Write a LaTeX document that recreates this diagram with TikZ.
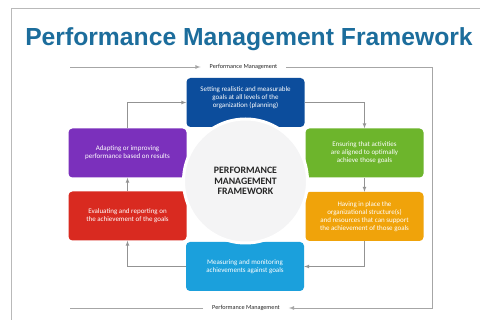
\documentclass[tikz,border=0pt]{standalone}
\usepackage{fontspec}
\setmainfont{Carlito}
\newfontfamily\titlefont{Liberation Sans}
\definecolor{titleblue}{HTML}{1C6D9C}
\definecolor{planblue}{HTML}{0C4D9C}
\definecolor{aligngreen}{HTML}{6DB52C}
\definecolor{structorange}{HTML}{F0A30A}
\definecolor{measureblue}{HTML}{1BA0DC}
\definecolor{evalred}{HTML}{D92A20}
\definecolor{adaptpurple}{HTML}{7B30BC}
\definecolor{hubgray}{HTML}{F4F4F5}
\begin{document}
\begin{tikzpicture}[x=1pt, y=-1pt, >=latex,
	stagebox/.style={rounded corners=4pt, text=white, minimum width=118pt, minimum height=49pt, align=center, inner sep=0pt, font=\fontsize{7}{7.9}\selectfont},
	flow/.style={draw=gray!85, line width=0.7pt},
	pmline/.style={draw=gray!70, line width=0.8pt},
	pmlabel/.style={inner xsep=9pt, text=black!85, font=\fontsize{6.2}{7}\selectfont}]
	\useasboundingbox (0,0) rectangle (480,320);
	\fill[white] (0,0) rectangle (480,320);
	\draw[gray!55, line width=1pt] (11,320) -- (11,9) -- (480,9);
	
	\node[anchor=base, text=titleblue, font=\titlefont\bfseries\fontsize{24.7}{26}\selectfont] (title) at (249,46) {Performance Management Framework};
	
	\coordinate (pmstart) at (70,67);
	\coordinate (pmcorner) at (432,308);
	\coordinate (pmend) at (70,308);
	\node[pmlabel] (pmtop) at (243.5,67) {Performance Management};
	\node[pmlabel] (pmbot) at (246,308) {Performance Management};
	\draw[pmline, ->] (pmstart) -- (pmtop.west);
	\draw[pmline, ->] (pmtop.east) -| (pmcorner) -- (pmbot.east);
	\draw[pmline] (pmbot.west) -- (pmend);
	
	\node[stagebox, fill=planblue] (plan) at (245.5,102.5) {Setting realistic and measurable\\goals at all levels of the\\organization (planning)\\[3pt]};
	\node[stagebox, fill=aligngreen] (align) at (364.5,153) {Ensuring that activities\\are aligned to optimally\\achieve those goals};
	\node[stagebox, fill=structorange] (struct) at (364.5,216.5) {Having in place the\\organizational structure(s)\\and resources that can support\\the achievement of those goals};
	\node[stagebox, fill=measureblue] (measure) at (245,266.5) {Measuring and monitoring\\achievements against goals};
	\node[stagebox, fill=evalred] (evaluate) at (127.5,216) {Evaluating and reporting on\\the achievement of the goals};
	\node[stagebox, fill=adaptpurple] (adapt) at (127.5,153) {Adapting or improving\\performance based on results};
	
	\node[circle, fill=hubgray, draw=white, line width=3pt, minimum size=124pt, inner sep=0pt, align=center, text=black!85, font=\bfseries\fontsize{9.8}{10.4}\selectfont] (hub) at (245.5,181) {PERFORMANCE\\MANAGEMENT\\FRAMEWORK};
	
	\draw[flow, ->] (adapt.north) |- (plan.west);
	\draw[flow, ->] (plan.east) -| (align.north);
	\draw[flow, ->] (align.south) -- (struct.north);
	\draw[flow, ->] (struct.south) |- (measure.east);
	\draw[flow, ->] (measure.west) -| (evaluate.south);
	\draw[flow, ->] (evaluate.north) -- (adapt.south);
	
\end{tikzpicture}
\end{document}
